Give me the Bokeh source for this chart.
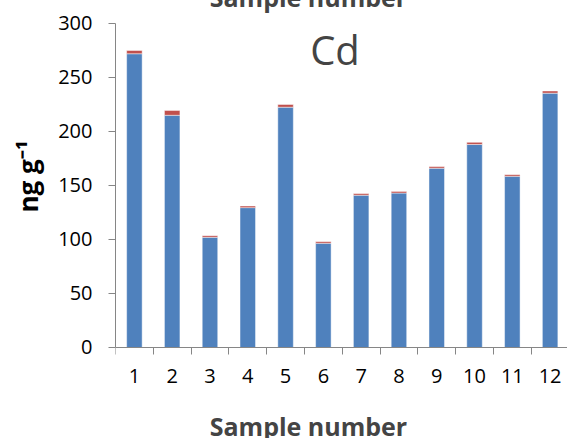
from bokeh.plotting import figure
from bokeh.models import ColumnDataSource, FixedTicker, Range1d, Label, Title
from bokeh.embed import file_html
from bokeh.resources import INLINE

samples = [1, 2, 3, 4, 5, 6, 7, 8, 9, 10, 11, 12]
tick_labels = [str(s) for s in samples]
cd_main = [272, 215, 102, 129.5, 222.5, 96.5, 141, 143, 166, 188, 158.5, 235.5]
cd_top = [3, 4.5, 1.5, 1.5, 2.5, 1.5, 1.5, 1.5, 1.5, 2, 1.5, 2]
y_ticks = [0, 50, 100, 150, 200, 250, 300]

FONT = "Open Sans"
AXIS_GREY = "#868686"
HIDDEN_TOP = 30   # part of the canvas above the window edge
HIDDEN_LEFT = 6   # part of the canvas left of the window edge

src = ColumnDataSource(dict(x=samples, main=cd_main, top=cd_top))

p = figure(width=567 + HIDDEN_LEFT, height=438 + HIDDEN_TOP, output_backend="svg",
           toolbar_location=None,
           x_range=Range1d(0.5, 12.46), y_range=Range1d(-84.26, 349.07),
           min_border_left=115 + HIDDEN_LEFT, min_border_right=0,
           min_border_top=0, min_border_bottom=0)
p.margin = (-HIDDEN_TOP, 0, 0, -HIDDEN_LEFT)
p.outline_line_color = None
p.grid.visible = False

p.vbar_stack(["main", "top"], x="x", width=0.41, source=src,
             color=["#4F81BD", "#C0504D"], line_color="white", line_alpha=0.45,
             line_width=1)

# y axis
ya = p.yaxis[0]
ya.ticker = FixedTicker(ticks=y_ticks)
ya.bounds = (0, 300)
ya.axis_line_color = AXIS_GREY
ya.major_tick_line_color = AXIS_GREY
ya.major_tick_out = 7
ya.major_tick_in = 0
ya.minor_tick_line_color = None
ya.major_label_standoff = 16
ya.major_label_text_font = FONT
ya.major_label_text_font_size = "20px"
ya.major_label_text_color = "black"

# x axis, drawn at y = 0
xa = p.xaxis[0]
xa.fixed_location = 0
xa.ticker = FixedTicker(ticks=samples, minor_ticks=[s - 0.5 for s in samples] + [12.5])
xa.major_label_overrides = {s: t for s, t in zip(samples, tick_labels)}
xa.axis_line_color = AXIS_GREY
xa.major_tick_line_color = None
xa.major_tick_out = 0
xa.major_tick_in = 0
xa.minor_tick_line_color = AXIS_GREY
xa.minor_tick_out = 7
xa.minor_tick_in = 0
xa.major_label_standoff = 15
xa.major_label_text_font = FONT
xa.major_label_text_font_size = "20px"
xa.major_label_text_color = "black"

# titles / labels
p.add_layout(Label(x=5.606, y=324.5, text="Sample number", text_font=FONT,
                   text_font_size="25px", text_font_style="bold",
                   text_align="center", text_baseline="alphabetic"))
p.add_layout(Label(x=5.606, y=-72.7, text="Sample number", text_font=FONT,
                   text_font_size="25px", text_font_style="bold",
                   text_align="center", text_baseline="alphabetic"))
p.add_layout(Title(text="ng g\u207b\u00b9", align="left", offset=226, standoff=19,
                   text_font=FONT, text_font_size="26px", text_font_style="bold",
                   text_color="black"), "left")
p.add_layout(Label(x=6.307, y=276, text="Cd", text_font=FONT,
                   text_font_size="40px", text_align="center",
                   text_baseline="alphabetic"))

open("out.html", "w").write(file_html(p, INLINE))
